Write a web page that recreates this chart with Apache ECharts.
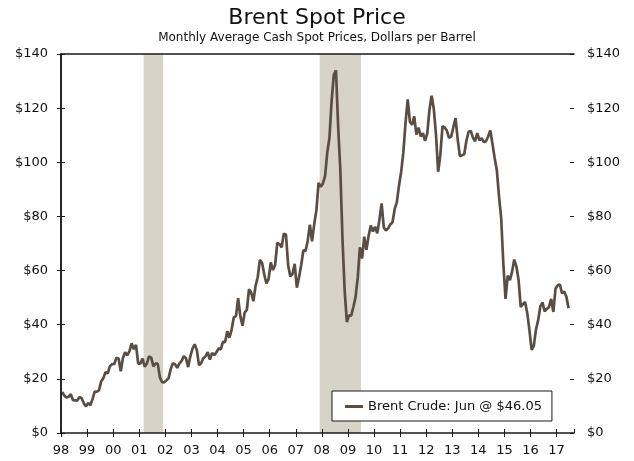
<!DOCTYPE html>
<html lang="en" style="height: 100%">
<head>
  <meta charset="utf-8">
</head>
<body style="height: 100%; margin: 0; background-color:#ffffff;">
  <div id="container" style="height: 100%"></div>

<script src="https://cdn.jsdelivr.net/npm/echarts@6/dist/echarts.min.js"></script>

<script>
  // monthly Brent, Jan 1998 .. Jun 2017
  var brent = [
    15.11, 13.87, 13.12, 13.39, 14.31, 12.16, 12.05, 11.94, 13.30, 12.86, 11.01, 9.83,
    11.11, 10.27, 12.51, 15.29, 15.23, 15.86, 19.08, 20.27, 22.52, 22.01, 24.58, 25.47,
    25.51, 27.78, 27.49, 22.76, 27.74, 29.80, 28.68, 30.20, 33.14, 30.96, 32.55, 25.66,
    25.62, 27.50, 24.50, 25.66, 28.31, 27.85, 24.61, 25.68, 25.62, 20.54, 18.80, 18.71,
    19.42, 20.28, 23.70, 25.73, 25.35, 24.08, 25.74, 26.65, 28.40, 27.54, 24.34, 28.33,
    31.18, 32.77, 30.61, 25.00, 25.86, 27.65, 28.35, 29.89, 27.11, 29.61, 28.75, 29.81,
    31.28, 30.86, 33.63, 33.59, 37.57, 35.18, 38.22, 42.74, 43.20, 49.78, 43.11, 39.60,
    44.51, 45.48, 53.10, 51.88, 48.65, 54.35, 57.52, 63.98, 62.91, 58.54, 55.24, 56.86,
    62.99, 60.21, 62.06, 70.26, 69.78, 68.56, 73.67, 73.23, 61.96, 57.81, 58.76, 62.47,
    53.68, 57.56, 62.05, 67.49, 67.21, 71.05, 76.93, 70.76, 77.17, 82.34, 92.41, 90.93,
    92.18, 94.99, 103.64, 109.07, 122.80, 132.32, 134.00, 113.24, 97.23, 71.58, 52.45, 41.00,
    43.44, 43.32, 46.54, 50.18, 57.30, 68.61, 64.44, 72.51, 67.65, 72.77, 76.66, 74.46,
    76.17, 73.75, 78.83, 84.82, 75.95, 74.76, 75.58, 77.04, 77.84, 82.67, 85.28, 91.45,
    96.52, 103.72, 114.64, 123.26, 114.99, 113.83, 116.97, 110.22, 112.83, 109.55, 110.77, 107.87,
    110.69, 119.33, 124.60, 119.75, 110.34, 96.50, 102.62, 113.36, 112.86, 111.71, 109.06, 109.49,
    112.96, 116.30, 108.47, 102.25, 102.56, 102.92, 107.93, 111.28, 111.60, 109.08, 107.79, 110.76,
    108.12, 108.90, 107.48, 107.76, 109.54, 111.80, 106.77, 101.61, 97.09, 87.43, 79.44, 62.34,
    49.50, 58.10, 56.50, 59.52, 64.08, 61.48, 56.56, 46.52, 47.62, 48.43, 44.27, 38.01,
    30.70, 32.18, 38.21, 41.58, 46.74, 48.25, 44.95, 45.84, 46.57, 49.52, 44.73, 53.31,
    54.58, 54.87, 51.59, 52.31, 50.33, 46.05
  ];
  var yearLabels = ['98', '99', '00', '01', '02', '03', '04', '05', '06', '07',
                    '08', '09', '10', '11', '12', '13', '14', '15', '16', '17'];
  // recession spans, months since Jan 1998
  var recessions = [[38, 47], [119, 138]];
  var legendName = 'Brent Crude: Jun @ $46.05';

  var dom = document.getElementById('container');
  var myChart = echarts.init(dom);

  var font = 'DejaVu Sans';
  var axisColor = '#1a1a1a';
  var lineColor = '#5a4e44';

  function yAxis(pos, inside, labels) {
    return {
      type: 'value', position: pos, min: 0, max: 140, interval: 20, z: 10,
      splitLine: { show: false },
      axisLine: { show: !inside, lineStyle: { color: axisColor, width: 1.5 } },
      axisTick: { show: true, inside: inside, length: 4, lineStyle: { color: axisColor } },
      axisLabel: {
        show: labels, margin: 13, color: '#111', fontFamily: font, fontSize: 13,
        formatter: function (v) { return '$' + v; }
      }
    };
  }

  function xAxis(pos, inside, labels, ticks) {
    return {
      type: 'value', position: pos, min: 0, max: 236, interval: 12, z: 10,
      splitLine: { show: false },
      axisLine: { show: !inside, onZero: false, lineStyle: { color: axisColor, width: 1.5 } },
      axisTick: { show: ticks, inside: inside, length: 4, lineStyle: { color: axisColor } },
      axisLabel: {
        show: labels, margin: 11, color: '#111', fontFamily: font, fontSize: 13,
        showMaxLabel: false,
        formatter: function (v) { return v % 12 === 0 ? yearLabels[v / 12] : ''; }
      }
    };
  }

  var option = {
    animation: false,
    title: {
      text: 'Brent Spot Price',
      subtext: 'Monthly Average Cash Spot Prices, Dollars per Barrel',
      left: 'center', top: 2, itemGap: 3,
      textStyle: { fontFamily: font, fontSize: 22, fontWeight: 'normal', color: '#111' },
      subtextStyle: { fontFamily: font, fontSize: 12, color: '#111' }
    },
    grid: { left: 61, right: 60, top: 54, bottom: 28 },
    legend: {
      left: 332, top: 391,
      padding: [9, 10, 8, 13],
      borderColor: axisColor, borderWidth: 1, backgroundColor: '#fff',
      icon: 'rect', itemWidth: 18, itemHeight: 3,
      textStyle: { fontFamily: font, fontSize: 13, color: '#111' },
      data: [legendName]
    },
    xAxis: [
      xAxis('bottom', false, true, true),
      xAxis('bottom', true, false, true),
      xAxis('top', false, false, false)
    ],
    yAxis: [
      yAxis('left', false, true),
      yAxis('left', true, false),
      yAxis('right', false, true),
      yAxis('right', true, false)
    ],
    series: [{
      name: legendName,
      type: 'line',
      showSymbol: false,
      xAxisIndex: 0, yAxisIndex: 0,
      color: lineColor,
      lineStyle: { color: lineColor, width: 2.7 },
      data: brent.map(function (v, i) { return [i + 0.5, v]; }),
      markArea: {
        silent: true,
        itemStyle: { color: '#d7d3c7' },
        data: recessions.map(function (r) { return [{ xAxis: r[0] }, { xAxis: r[1] }]; })
      }
    }]
  };

  myChart.setOption(option);
  window.addEventListener('resize', myChart.resize);
</script>

</body>
</html>
